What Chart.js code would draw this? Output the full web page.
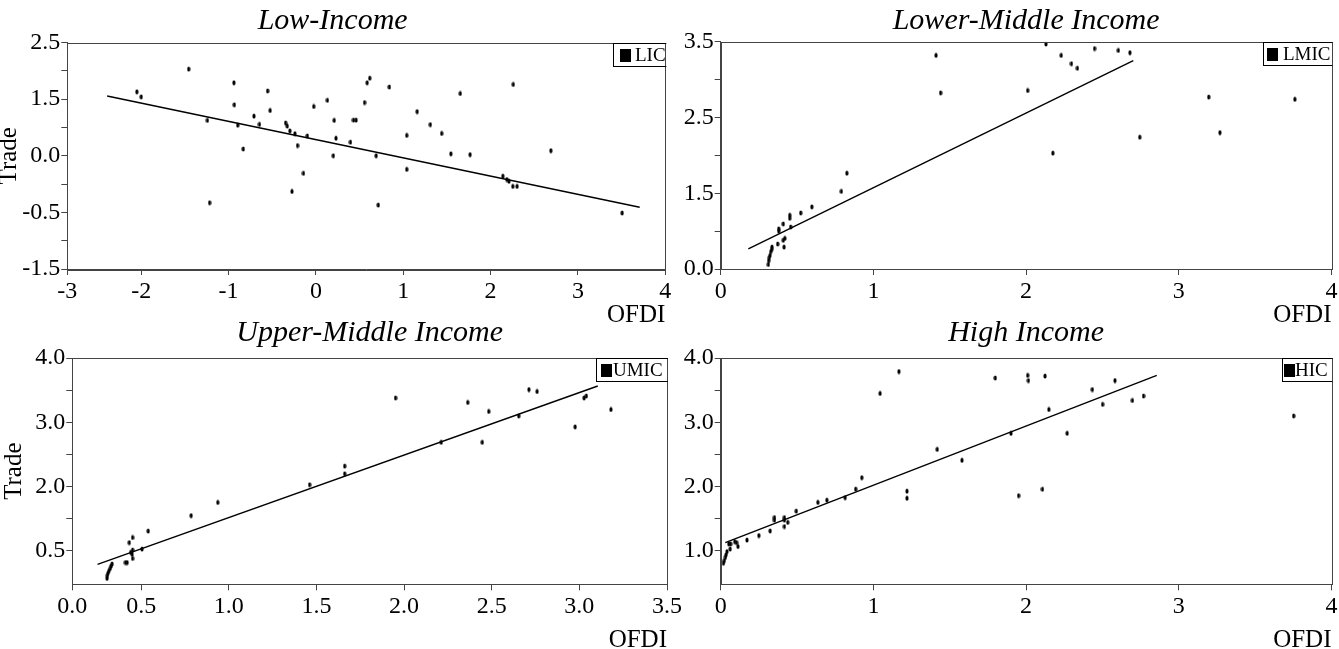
<!DOCTYPE html>
<html>
<head>
<meta charset="utf-8">
<script src="https://cdn.jsdelivr.net/npm/chart.js@4.4.0/dist/chart.umd.min.js"></script>
<style>
  body { margin: 0; background: #fff; }
  #wrap { position: relative; width: 1339px; height: 649px; overflow: hidden; background: #fff; }
  #wrap canvas { position: absolute; }
</style>
</head>
<body>
<div id="wrap">
  <canvas id="lic" width="690" height="330" style="left:0px;top:0px"></canvas>
  <canvas id="lmic" width="670" height="330" style="left:669px;top:0px"></canvas>
  <canvas id="umic" width="690" height="337" style="left:0px;top:312px"></canvas>
  <canvas id="hic" width="670" height="337" style="left:669px;top:312px"></canvas>
</div>
<script>
// ---- Low-Income ----
const licOfdi = [-2.05, -2.0, -1.457, -1.242, -1.217, -0.939, -0.934, -0.895, -0.831, -0.709,
  -0.646, -0.553, -0.524, -0.347, -0.328, -0.298, -0.274, -0.24, -0.21, -0.142,
  -0.098, -0.025, 0.132, 0.2, 0.21, 0.23, 0.396, 0.43, 0.46, 0.557,
  0.587, 0.616, 0.69, 0.714, 0.841, 1.04, 1.04, 1.159, 1.31, 1.44,
  1.545, 1.653, 1.765, 2.14, 2.186, 2.21, 2.254, 2.303, 2.26, 2.69, 3.506]
const licTrade = [1.63, 1.54, 2.03, 1.125, -0.33, 1.79, 1.40, 1.04, 0.62, 1.20,
  1.055, 1.645, 1.30, 1.08, 1.025, 0.94, -0.13, 0.89, 0.68, 0.19,
  0.85, 1.37, 1.48, 0.5, 1.125, 0.81, 0.74, 1.13, 1.13, 1.44,
  1.79, 1.87, 0.5, -0.37, 1.715, 0.86, 0.26, 1.28, 1.05, 0.895,
  0.535, 1.60, 0.52, 0.14, 0.08, 0.05, -0.04, -0.04, 1.76, 0.59, -0.51]
const licFitOfdi = [-2.39, 3.707]
const licFitTrade = [1.556, -0.41]
const licXTicks = [-2.846, -2, -1, 0, 1, 2, 3, 4]
const licXLabels = ['-3', '-2', '-1', '0', '1', '2', '3', '4']
const licYTicks = [-1.5, -1, -0.5, 0, 0.5, 1, 1.5, 2, 2.5]
const licYLabels = ['-1.5', '', '-0.5', '', '0.0', '', '1.5', '', '2.5']

// ---- Lower-Middle Income ----
const lmicOfdi = [1.41, 1.44, 2.13, 2.23, 2.297, 2.336, 2.448, 2.604, 2.68, 2.01,
  2.175, 2.744, 3.196, 3.269, 3.76, 0.826, 0.79, 0.597, 0.524, 0.452,
  0.452, 0.458, 0.41, 0.38, 0.38, 0.42, 0.41, 0.415, 0.373, 0.336,
  0.334, 0.328, 0.323, 0.318, 0.314, 0.312]
const lmicTrade = [3.32, 2.825, 3.47, 3.32, 3.21, 3.15, 3.41, 3.385, 3.355, 2.856,
  2.03, 2.24, 2.77, 2.30, 2.74, 1.765, 1.525, 1.32, 1.24, 1.21,
  1.17, 1.055, 1.095, 1.03, 1.0, 0.905, 0.88, 0.79, 0.83, 0.79,
  0.76, 0.73, 0.68, 0.65, 0.61, 0.56]
const lmicFitOfdi = [0.181, 2.702]
const lmicFitTrade = [0.765, 3.25]
const lmicXTicks = [0, 1, 2, 3, 4]
const lmicXLabels = ['0', '1', '2', '3', '4']
const lmicYTicks = [0.5, 1, 1.5, 2, 2.5, 3, 3.5]
const lmicYLabels = ['0.0', '', '1.5', '', '2.5', '', '3.5']

// ---- Upper-Middle Income ----
const umicOfdi = [1.951, 2.363, 2.483, 2.446, 2.212, 2.654, 2.712, 2.759, 2.976, 3.027,
  3.04, 3.18, 1.661, 1.661, 1.461, 0.937, 0.785, 0.54, 0.451, 0.432,
  0.505, 0.451, 0.451, 0.448, 0.44, 0.41, 0.42, 0.334, 0.329, 0.324,
  0.317, 0.31, 0.307, 0.305]
const umicTrade = [3.38, 3.31, 3.17, 2.69, 2.69, 3.10, 3.51, 3.48, 2.93, 3.38,
  3.41, 3.20, 2.32, 2.2, 2.03, 1.755, 1.55, 1.31, 1.21, 1.13,
  1.03, 1.015, 0.885, 0.95, 0.98, 0.82, 0.82, 0.798, 0.767, 0.731,
  0.694, 0.653, 0.617, 0.575]
const umicFitOfdi = [0.251, 3.105]
const umicFitTrade = [0.793, 3.565]
const umicXTicks = [0.107, 0.5, 1, 1.5, 2, 2.5, 3, 3.5]
const umicXLabels = ['0.0', '0.5', '1.0', '1.5', '2.0', '2.5', '3.0', '3.5']
const umicYTicks = [1, 1.5, 2, 2.5, 3, 3.5, 4]
const umicYLabels = ['0.5', '', '2.0', '', '3.0', '', '4.0']

// ---- High Income ----
const hicOfdi = [1.167, 1.044, 1.798, 2.01, 2.015, 2.124, 2.149, 2.434, 2.501, 2.582,
  2.696, 2.769, 3.752, 2.269, 1.901, 1.418, 1.58, 2.107, 1.951, 1.22,
  1.22, 0.924, 0.884, 0.815, 0.695, 0.636, 0.495, 0.417, 0.417, 0.417,
  0.439, 0.352, 0.352, 0.324, 0.25, 0.172, 0.113, 0.092, 0.104, 0.053,
  0.065, 0.062, 0.041, 0.035, 0.031, 0.024, 0.018]
const hicTrade = [3.79, 3.45, 3.69, 3.73, 3.65, 3.72, 3.20, 3.51, 3.28, 3.65,
  3.34, 3.41, 3.10, 2.83, 2.83, 2.58, 2.41, 1.96, 1.86, 1.93,
  1.82, 2.14, 1.962, 1.83, 1.79, 1.756, 1.62, 1.52, 1.48, 1.38,
  1.445, 1.52, 1.48, 1.312, 1.24, 1.17, 1.07, 1.145, 1.13, 1.11,
  1.11, 1.03, 0.99, 0.94, 0.90, 0.85, 0.81]
const hicFitOfdi = [0.03, 2.856]
const hicFitTrade = [1.13, 3.73]
const hicXTicks = [0, 1, 2, 3, 4]
const hicXLabels = ['0', '1', '2', '3', '4']
const hicYTicks = [1, 1.5, 2, 2.5, 3, 3.5, 4]
const hicYLabels = ['1.0', '', '2.0', '', '3.0', '', '4.0']

const serif = 'Liberation Serif'
Chart.defaults.font.family = serif

// small upright ellipse used as the scatter marker
const dot = (() => {
    const c = document.createElement('canvas')
    c.width = 4; c.height = 6
    const g = c.getContext('2d')
    g.fillStyle = '#000'
    g.beginPath(); g.ellipse(2, 3, 1.6, 2.6, 0, 0, Math.PI * 2); g.fill()
    return c
})()

// frame round the plot + the small legend box in its top right corner
const boxLegend = {
    id: 'boxLegend',
    afterDraw(chart, args, o) {
        const { ctx, chartArea: a } = chart
        ctx.save()
        ctx.strokeStyle = '#444'
        ctx.lineWidth = 1
        ctx.strokeRect(Math.round(a.left) + 0.5, Math.round(a.top) + 0.5,
            Math.round(a.right - a.left), Math.round(a.bottom - a.top))
        ctx.beginPath()
        ctx.rect(a.left, a.top, a.right - a.left + 1, a.bottom - a.top)
        ctx.clip()
        const x0 = Math.round(a.right - o.width), y0 = Math.round(a.top)
        ctx.fillStyle = '#fff'
        ctx.fillRect(x0, y0 + 1, o.width, 23)
        ctx.strokeStyle = '#000'
        ctx.strokeRect(x0 + 0.5, y0 + 0.5, o.width + 2, 23)
        ctx.fillStyle = '#000'
        ctx.fillRect(x0 + o.mark, y0 + 6, 11, 13)
        ctx.font = '19px "' + serif + '"'
        ctx.textBaseline = 'middle'
        ctx.fillText(chart.data.datasets[0].label, x0 + o.text, y0 + 13)
        ctx.restore()
    }
}

const panel = (id, p) => {
    const pts = p.xs.map((x, i) => ({ x, y: p.ys[i] }))
    const fit = p.fitX.map((x, i) => ({ x, y: p.fitY[i] }))
    new Chart(document.getElementById(id), {
        type: 'scatter',
        data: {
            datasets: [{
                label: p.label,
                data: pts,
                pointStyle: dot,
                pointRadius: 3,
                showLine: false
            }, {
                label: 'fit',
                data: fit,
                showLine: true,
                borderColor: '#000',
                borderWidth: 1.4,
                pointRadius: 0
            }]
        },
        options: {
            responsive: false,
            animation: false,
            devicePixelRatio: 1,
            layout: { padding: { left: 0, right: p.padRight, top: 0, bottom: 0 } },
            plugins: {
                legend: { display: false },
                tooltip: { enabled: false },
                title: {
                    display: true,
                    text: p.title,
                    fullSize: p.titleFull,
                    color: '#000',
                    font: { family: serif, size: 30, style: 'italic', weight: 'normal', lineHeight: 1.2 },
                    padding: { top: p.titleTop, bottom: p.titleH - p.titleTop - 36 }
                },
                boxLegend: p.legend
            },
            scales: {
                x: {
                    type: 'linear',
                    min: p.xTicks[0],
                    max: p.xTicks[p.xTicks.length - 1],
                    afterBuildTicks: s => { s.ticks = p.xTicks.map(v => ({ value: v })) },
                    afterFit: s => { s.height = p.xH; s.paddingLeft = 0; s.paddingRight = 0 },
                    ticks: {
                        autoSkip: false, maxRotation: 0, padding: 2, color: '#000',
                        font: { family: serif, size: 24 },
                        callback: (v, i) => p.xLabels[i]
                    },
                    grid: { drawOnChartArea: false, tickLength: 6, color: '#444' },
                    border: { color: '#444' },
                    title: {
                        display: true, text: 'OFDI', align: 'end', color: '#000',
                        font: { family: serif, size: 25, lineHeight: 1 },
                        padding: { top: 0, bottom: p.xTitlePad }
                    }
                },
                y: {
                    type: 'linear',
                    min: p.yMin,
                    max: p.yMax,
                    afterBuildTicks: s => { s.ticks = p.yTicks.map(v => ({ value: v })) },
                    afterFit: s => { s.width = p.yW; s.paddingTop = 0; s.paddingBottom = 0 },
                    ticks: {
                        autoSkip: false, padding: 1, color: '#000',
                        font: { family: serif, size: 24 },
                        callback: (v, i) => p.yLabels[i]
                    },
                    grid: { drawOnChartArea: false, tickLength: 6, color: '#444' },
                    border: { color: '#444' },
                    title: {
                        display: !!p.yTitle, text: p.yTitle || '', color: '#000',
                        font: { family: serif, size: 25, lineHeight: 1 },
                        padding: { top: p.yTitlePad || 0, bottom: 0 }
                    }
                }
            }
        },
        plugins: [boxLegend]
    })
}

panel('lic', {
    label: 'LIC', title: 'Low-Income', titleFull: true, titleTop: 3, titleH: 42.5,
    xs: licOfdi, ys: licTrade, fitX: licFitOfdi, fitY: licFitTrade,
    xTicks: licXTicks, xLabels: licXLabels, yTicks: licYTicks, yLabels: licYLabels,
    yMin: -1.5, yMax: 2.5, yW: 67.3, padRight: 24.7, xH: 61, xTitlePad: 2,
    yTitle: 'Trade', yTitlePad: -3.5,
    legend: { width: 52, mark: 7, text: 22 }
})

panel('lmic', {
    label: 'LMIC', title: 'Lower-Middle Income', titleFull: false, titleTop: 3, titleH: 41.7,
    xs: lmicOfdi, ys: lmicTrade, fitX: lmicFitOfdi, fitY: lmicFitTrade,
    xTicks: lmicXTicks, xLabels: lmicXLabels, yTicks: lmicYTicks, yLabels: lmicYLabels,
    yMin: 0.5, yMax: 3.5, yW: 51.7, padRight: 7.5, xH: 61, xTitlePad: 2,
    legend: { width: 68.5, mark: 4, text: 20 }
})

panel('umic', {
    label: 'UMIC', title: 'Upper-Middle Income', titleFull: false, titleTop: 3, titleH: 46,
    xs: umicOfdi, ys: umicTrade, fitX: umicFitOfdi, fitY: umicFitTrade,
    xTicks: umicXTicks, xLabels: umicXLabels, yTicks: umicYTicks, yLabels: umicYLabels,
    yMin: 0.482, yMax: 4.0, yW: 72.3, padRight: 23, xH: 64.7, xTitlePad: -4,
    yTitle: 'Trade', yTitlePad: 2,
    legend: { width: 71, mark: 5, text: 17 }
})

panel('hic', {
    label: 'HIC', title: 'High Income', titleFull: false, titleTop: 3, titleH: 46,
    xs: hicOfdi, ys: hicTrade, fitX: hicFitOfdi, fitY: hicFitTrade,
    xTicks: hicXTicks, xLabels: hicXLabels, yTicks: hicYTicks, yLabels: hicYLabels,
    yMin: 0.482, yMax: 4.0, yW: 51.7, padRight: 7.5, xH: 64.7, xTitlePad: -4,
    legend: { width: 49.5, mark: 2, text: 13 }
})
</script>
</body>
</html>
